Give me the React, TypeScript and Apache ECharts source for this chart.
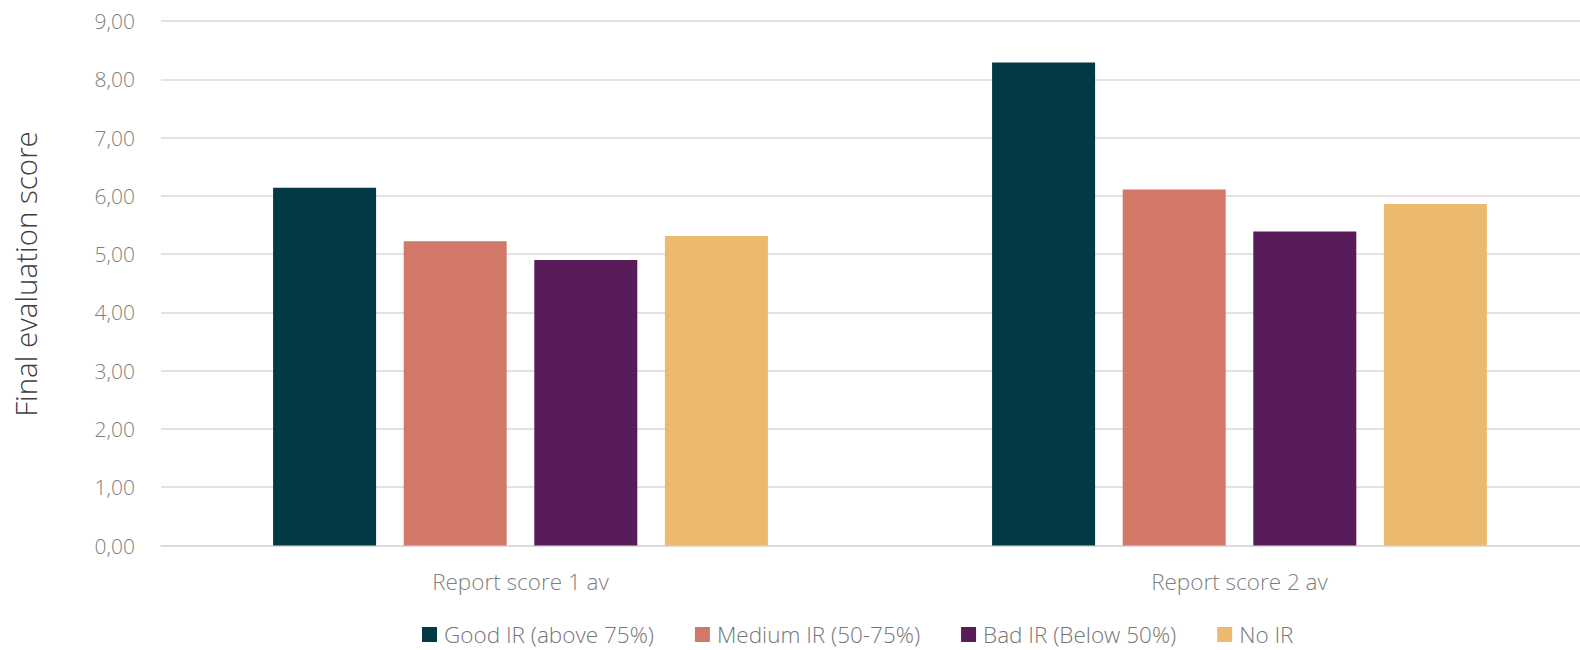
import React, { useEffect, useRef } from "react";
import * as echarts from "echarts";

const categories = ["Report score 1 av", "Report score 2 av"];
const seriesNames = ["Good IR (above 75%)", "Medium IR (50-75%)", "Bad IR (Below 50%)", "No IR"];
const goodIR = [6.14, 8.29];
const mediumIR = [5.22, 6.11];
const badIR = [4.9, 5.39];
const noIR = [5.31, 5.86];
const colors = ["#023945", "#D27868", "#581C5B", "#EBBA6E"];
const yTitle = "Final evaluation score";

const FONT = "'Open Sans', 'Segoe UI', sans-serif";

export default function App() {
  const ref = useRef<HTMLDivElement>(null);
  useEffect(() => {
    if (!ref.current) return;
    const chart = echarts.init(ref.current, undefined, { renderer: "svg" });
    const values = [goodIR, mediumIR, badIR, noIR];
    chart.setOption({
      animation: false,
      backgroundColor: "#ffffff",
      textStyle: { fontFamily: FONT },
      grid: { left: 161, top: 21, width: 1438, height: 524.5, containLabel: false },
      legend: {
        left: 422,
        top: 623,
        padding: 0,
        itemWidth: 15,
        itemHeight: 15,
        itemGap: 41,
        icon: "rect",
        textStyle: {
          fontSize: 22.5,
          lineHeight: 23,
          color: "#767676",
          fontWeight: 300,
          fontFamily: FONT,
          padding: [0, 0, 0, 2],
        },
        data: seriesNames,
      },
      xAxis: {
        type: "category",
        data: categories,
        axisTick: { show: false },
        axisLine: { show: true, lineStyle: { color: "#d9d9d9", width: 1.5 } },
        axisLabel: { fontSize: 22.5, color: "#7f7f7f", margin: 24, fontWeight: 300, fontFamily: FONT },
      },
      yAxis: {
        type: "value",
        min: 0,
        max: 9,
        interval: 1,
        axisLine: { show: false },
        axisTick: { show: false },
        splitLine: { lineStyle: { color: "#d9d9d9", width: 1.5 } },
        axisLabel: {
          fontSize: 21,
          color: "#7f7f7f",
          margin: 26,
          fontWeight: 300,
          fontFamily: FONT,
          formatter: (v: number) => v.toFixed(2).replace(".", ","),
        },
      },
      graphic: [
        {
          type: "text",
          x: 25,
          y: 274,
          rotation: Math.PI / 2,
          style: {
            text: yTitle,
            fontSize: 29.5,
            fontWeight: 300,
            fontFamily: FONT,
            fill: "#404040",
            align: "center",
            verticalAlign: "middle",
          },
        },
      ],
      series: seriesNames.map((name, i) => ({
        name,
        type: "bar",
        data: values[i],
        barWidth: 103,
        barGap: "26.8%",
        itemStyle: { color: colors[i] },
      })),
    });
    return () => chart.dispose();
  }, []);
  return (
    <div
      style={{ position: "absolute", left: 0, top: 0, width: 1580, height: 650, overflow: "hidden", background: "#fff" }}
    >
      <div ref={ref} style={{ width: 1600, height: 650 }} />
    </div>
  );
}
